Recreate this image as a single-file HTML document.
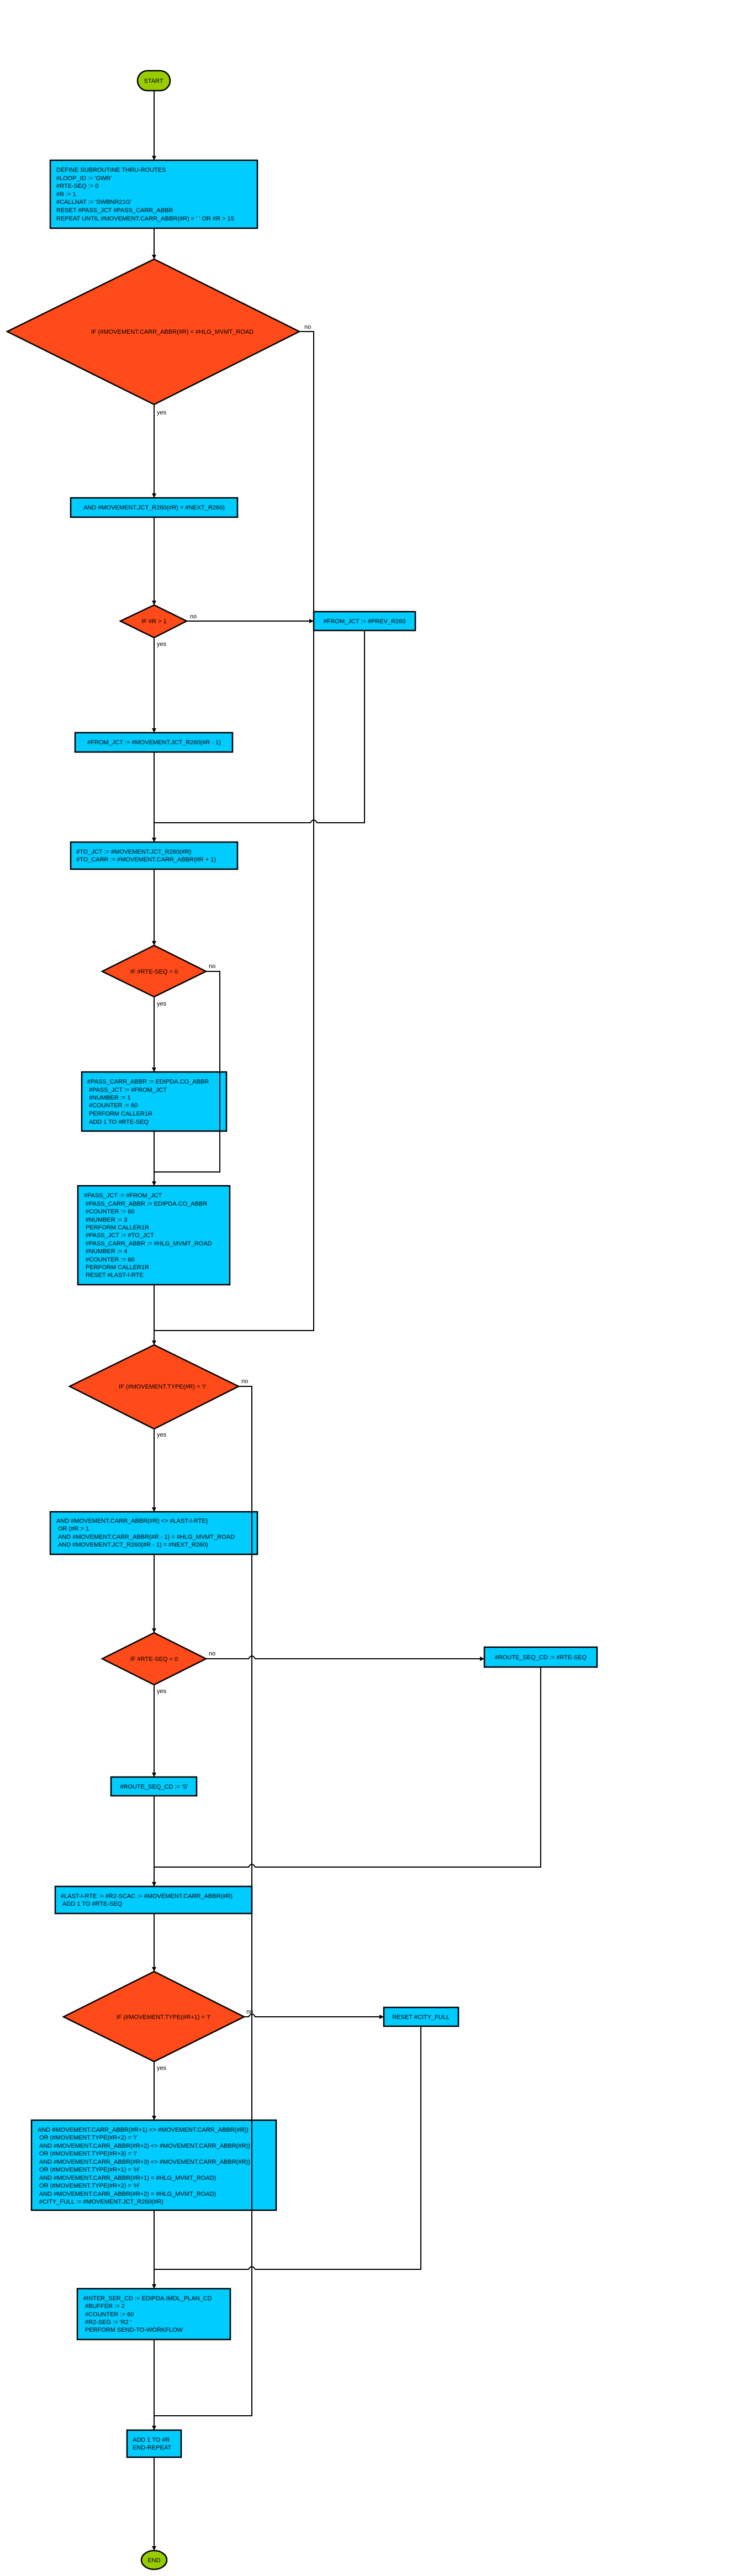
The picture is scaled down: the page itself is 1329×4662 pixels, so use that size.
<!DOCTYPE html>
<html><head><meta charset="utf-8"><style>
html,body{margin:0;padding:0;background:#fff;}
svg{display:block;}
text{font-family:"Liberation Sans",Arial,sans-serif;font-size:11px;fill:#000;}
.b{fill:#00CCFF;stroke:#000;stroke-width:2.5;}
.d{fill:#FF4A1A;stroke:#000;stroke-width:2.5;}
.t{fill:#99CC00;stroke:#000;stroke-width:2.5;}
.l{fill:none;stroke:#000;stroke-width:2;}
</style></head><body>
<svg width="1329" height="4662" viewBox="0 0 1329 4662" xmlns="http://www.w3.org/2000/svg">
<defs><marker id="a" markerWidth="8" markerHeight="8" refX="7" refY="4" orient="auto" markerUnits="userSpaceOnUse"><path d="M0,0 L8,4 L0,8 z" fill="#000"/></marker></defs>

<!-- shapes -->
<rect class="t" x="249" y="128" width="59" height="36" rx="18"/>
<text x="278" y="150" text-anchor="middle">START</text>

<rect class="b" x="91" y="290" width="375" height="123"/>
<text x="102" y="311">DEFINE SUBROUTINE THRU-ROUTES</text>
<text x="102" y="326">#LOOP_ID := 'GWR'</text>
<text x="102" y="340">#RTE-SEQ := 0</text>
<text x="102" y="355">#R := 1</text>
<text x="102" y="369">#CALLNAT := 'SWBNR21G'</text>
<text x="102" y="384">RESET #PASS_JCT #PASS_CARR_ABBR</text>
<text x="102" y="399">REPEAT UNTIL #MOVEMENT.CARR_ABBR(#R) = ' ' OR #R &gt; 15</text>

<polygon class="d" points="279,469 542,600 279,732 13,600"/>
<text x="312" y="604" text-anchor="middle">IF (#MOVEMENT.CARR_ABBR(#R) = #HLG_MVMT_ROAD</text>
<text x="551" y="595">no</text>
<text x="284" y="750">yes</text>

<rect class="b" x="128" y="901" width="302" height="35"/>
<text x="279" y="922" text-anchor="middle">AND #MOVEMENT.JCT_R260(#R) = #NEXT_R260)</text>

<polygon class="d" points="279,1095 338,1124 279,1154 218,1124"/>
<text x="279" y="1128" text-anchor="middle">IF #R &gt; 1</text>
<text x="344" y="1119">no</text>
<text x="284" y="1169">yes</text>

<rect class="b" x="568" y="1107" width="184" height="34"/>
<text x="660" y="1128" text-anchor="middle">#FROM_JCT := #PREV_R260</text>

<rect class="b" x="136" y="1326" width="285" height="35"/>
<text x="279" y="1347" text-anchor="middle">#FROM_JCT := #MOVEMENT.JCT_R260(#R - 1)</text>

<rect class="b" x="128" y="1524" width="302" height="49"/>
<text x="138" y="1545">#TO_JCT := #MOVEMENT.JCT_R260(#R)</text>
<text x="138" y="1559"> #TO_CARR := #MOVEMENT.CARR_ABBR(#R + 1)</text>

<polygon class="d" points="279,1711 373,1758 279,1804 185,1758"/>
<text x="279" y="1762" text-anchor="middle">IF #RTE-SEQ = 0</text>
<text x="378" y="1752">no</text>
<text x="284" y="1820">yes</text>

<rect class="b" x="148" y="1940" width="262" height="107"/>
<text x="158" y="1961">#PASS_CARR_ABBR := EDIPDA.CO_ABBR</text>
<text x="161" y="1976">#PASS_JCT := #FROM_JCT</text>
<text x="161" y="1990">#NUMBER := 1</text>
<text x="161" y="2004">#COUNTER := 60</text>
<text x="161" y="2019">PERFORM CALLER1R</text>
<text x="161" y="2034">ADD 1 TO #RTE-SEQ</text>

<rect class="b" x="141" y="2146" width="275" height="179"/>
<text x="152" y="2167">#PASS_JCT := #FROM_JCT</text>
<text x="155" y="2182">#PASS_CARR_ABBR := EDIPDA.CO_ABBR</text>
<text x="155" y="2196">#COUNTER := 60</text>
<text x="155" y="2211">#NUMBER := 3</text>
<text x="155" y="2225">PERFORM CALLER1R</text>
<text x="155" y="2239">#PASS_JCT := #TO_JCT</text>
<text x="155" y="2254">#PASS_CARR_ABBR := #HLG_MVMT_ROAD</text>
<text x="155" y="2268">#NUMBER := 4</text>
<text x="155" y="2283">#COUNTER := 60</text>
<text x="155" y="2297">PERFORM CALLER1R</text>
<text x="155" y="2311">RESET #LAST-I-RTE</text>

<polygon class="d" points="279,2434 432,2509 279,2586 126,2509"/>
<text x="294" y="2513" text-anchor="middle">IF (#MOVEMENT.TYPE(#R) = 'I'</text>
<text x="437" y="2503">no</text>
<text x="284" y="2600">yes</text>

<rect class="b" x="91" y="2736" width="375" height="77"/>
<text x="102" y="2756">AND #MOVEMENT.CARR_ABBR(#R) &lt;&gt; #LAST-I-RTE)</text>
<text x="105" y="2770"> OR (#R &gt; 1</text>
<text x="105" y="2785"> AND #MOVEMENT.CARR_ABBR(#R - 1) = #HLG_MVMT_ROAD</text>
<text x="105" y="2799"> AND #MOVEMENT.JCT_R260(#R - 1) = #NEXT_R260)</text>

<polygon class="d" points="279,2955 373,3002 279,3049 185,3002"/>
<text x="279" y="3006" text-anchor="middle">IF #RTE-SEQ = 0</text>
<text x="378" y="2996">no</text>
<text x="284" y="3064">yes</text>

<rect class="b" x="877" y="2981" width="204" height="36"/>
<text x="979" y="3003" text-anchor="middle">#ROUTE_SEQ_CD := #RTE-SEQ</text>

<rect class="b" x="201" y="3216" width="155" height="34"/>
<text x="279" y="3237" text-anchor="middle">#ROUTE_SEQ_CD := 'S'</text>

<rect class="b" x="100" y="3414" width="356" height="49"/>
<text x="110" y="3435">#LAST-I-RTE := #R2-SCAC := #MOVEMENT.CARR_ABBR(#R)</text>
<text x="113" y="3449"> ADD 1 TO #RTE-SEQ</text>

<polygon class="d" points="279,3568 442,3650 279,3731 115,3650"/>
<text x="296" y="3654" text-anchor="middle">IF (#MOVEMENT.TYPE(#R+1) = 'I'</text>
<text x="446" y="3644">no</text>
<text x="284" y="3746">yes</text>

<rect class="b" x="695" y="3633" width="135" height="34"/>
<text x="762" y="3654" text-anchor="middle">RESET #CITY_FULL</text>

<rect class="b" x="57" y="3837" width="443" height="163"/>
<text x="68" y="3858">AND #MOVEMENT.CARR_ABBR(#R+1) &lt;&gt; #MOVEMENT.CARR_ABBR(#R))</text>
<text x="71" y="3872"> OR (#MOVEMENT.TYPE(#R+2) = 'I'</text>
<text x="71" y="3887"> AND #MOVEMENT.CARR_ABBR(#R+2) &lt;&gt; #MOVEMENT.CARR_ABBR(#R))</text>
<text x="71" y="3901"> OR (#MOVEMENT.TYPE(#R+3) = 'I'</text>
<text x="71" y="3916"> AND #MOVEMENT.CARR_ABBR(#R+3) &lt;&gt; #MOVEMENT.CARR_ABBR(#R))</text>
<text x="71" y="3930"> OR (#MOVEMENT.TYPE(#R+1) = 'H'</text>
<text x="71" y="3945"> AND #MOVEMENT.CARR_ABBR(#R+1) = #HLG_MVMT_ROAD)</text>
<text x="71" y="3959"> OR (#MOVEMENT.TYPE(#R+2) = 'H'</text>
<text x="71" y="3974"> AND #MOVEMENT.CARR_ABBR(#R+2) = #HLG_MVMT_ROAD)</text>
<text x="71" y="3988"> #CITY_FULL := #MOVEMENT.JCT_R260(#R)</text>

<rect class="b" x="140" y="4142" width="277" height="92"/>
<text x="151" y="4163">#INTER_SER_CD := EDIPDA.IMDL_PLAN_CD</text>
<text x="154" y="4177"> #BUFFER := 2</text>
<text x="154" y="4192"> #COUNTER := 60</text>
<text x="154" y="4206"> #R2-SEG := 'R2 '</text>
<text x="154" y="4220"> PERFORM SEND-TO-WORKFLOW</text>

<rect class="b" x="230" y="4398" width="98" height="49"/>
<text x="240" y="4419">ADD 1 TO #R</text>
<text x="240" y="4433">END-REPEAT</text>

<ellipse class="t" cx="279" cy="4633" rx="23" ry="17"/>
<text x="279" y="4637" text-anchor="middle">END</text>

<!-- connectors -->
<path class="l" d="M279,164 V289" marker-end="url(#a)"/>
<path class="l" d="M279,413 V468" marker-end="url(#a)"/>
<path class="l" d="M279,732 V900" marker-end="url(#a)"/>
<path class="l" d="M279,936 V1094" marker-end="url(#a)"/>
<path class="l" d="M542,600 H568 V2408 H279"/>
<path class="l" d="M338,1124 H567" marker-end="url(#a)"/>
<path class="l" d="M279,1154 V1325" marker-end="url(#a)"/>
<path class="l" d="M279,1361 V1523" marker-end="url(#a)"/>
<path class="l" d="M660,1141 V1489 H574 Q568,1479 562,1489 H279"/>
<path class="l" d="M279,1573 V1710" marker-end="url(#a)"/>
<path class="l" d="M279,1804 V1939" marker-end="url(#a)"/>
<path class="l" d="M373,1758 H398 V2121 H279"/>
<path class="l" d="M279,2047 V2145" marker-end="url(#a)"/>
<path class="l" d="M279,2325 V2433" marker-end="url(#a)"/>
<path class="l" d="M432,2509 H456 V4372 H279"/>
<path class="l" d="M279,2586 V2735" marker-end="url(#a)"/>
<path class="l" d="M279,2813 V2954" marker-end="url(#a)"/>
<path class="l" d="M373,3002 H450 Q456,2992 462,3002 H876" marker-end="url(#a)"/>
<path class="l" d="M979,3017 V3379 H462 Q456,3369 450,3379 H279"/>
<path class="l" d="M279,3049 V3215" marker-end="url(#a)"/>
<path class="l" d="M279,3250 V3413" marker-end="url(#a)"/>
<path class="l" d="M279,3463 V3567" marker-end="url(#a)"/>
<path class="l" d="M442,3650 H450 Q456,3640 462,3650 H694" marker-end="url(#a)"/>
<path class="l" d="M762,3667 V4107 H462 Q456,4097 450,4107 H279"/>
<path class="l" d="M279,3731 V3836" marker-end="url(#a)"/>
<path class="l" d="M279,4000 V4141" marker-end="url(#a)"/>
<path class="l" d="M279,4234 V4397" marker-end="url(#a)"/>
<path class="l" d="M279,4447 V4615" marker-end="url(#a)"/>
</svg>
</body></html>
